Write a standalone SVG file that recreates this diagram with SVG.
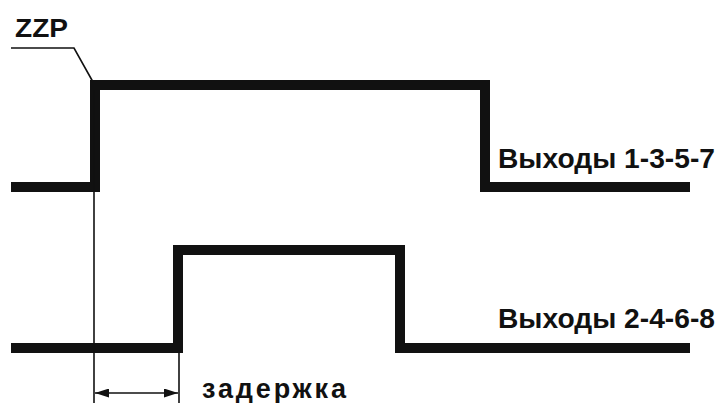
<svg xmlns="http://www.w3.org/2000/svg" width="723" height="403" viewBox="0 0 723 403">
<defs>
<style>
.wave{fill:none;stroke:#111;stroke-width:10;stroke-linejoin:miter;stroke-linecap:butt}
.thin{fill:none;stroke:#111;stroke-width:1.6}
.lbl{font-family:"Liberation Sans",Arial,sans-serif;font-weight:bold;fill:#111}
</style>
<marker id="ah" viewBox="0 0 14 9" refX="14" refY="4.5" markerWidth="14" markerHeight="9" markerUnits="userSpaceOnUse" orient="auto-start-reverse">
<path d="M0,0 L14,4.5 L0,9 z" fill="#111"/>
</marker>
</defs>
<rect width="723" height="403" fill="#fff"/>
<g id="signal-1357">
<polyline class="wave" points="11,187 95,187 95,85 485,85 485,187 690,187"/>
<text class="lbl" x="498" y="168" font-size="27" textLength="217" lengthAdjust="spacingAndGlyphs">Выходы 1-3-5-7</text>
</g>
<g id="signal-2468">
<polyline class="wave" points="11,348 178,348 178,250 400,250 400,348 690,348"/>
<text class="lbl" x="498" y="328" font-size="27" textLength="217" lengthAdjust="spacingAndGlyphs">Выходы 2-4-6-8</text>
</g>
<g id="zzp">
<text class="lbl" x="15" y="37" font-size="26" textLength="53" lengthAdjust="spacingAndGlyphs">ZZP</text>
</g>
<g id="delay">
<text class="lbl" x="202" y="398" font-size="27" textLength="144" lengthAdjust="spacing">задержка</text>
</g>
<g id="connectors">
<polyline class="thin" points="11,48 74,48 93,82"/>
<line class="thin" x1="94" y1="90" x2="94" y2="403"/>
<line class="thin" x1="179" y1="352" x2="179" y2="403"/>
<line class="thin" x1="95" y1="393" x2="178" y2="393" marker-start="url(#ah)" marker-end="url(#ah)"/>
</g>
</svg>
